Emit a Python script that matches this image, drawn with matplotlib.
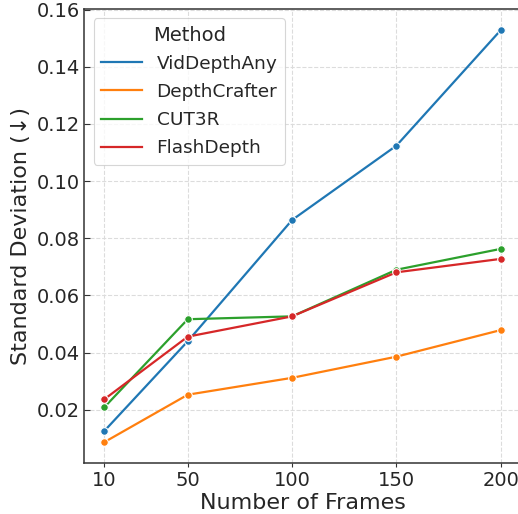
import matplotlib
matplotlib.use("Agg")
import matplotlib.pyplot as plt
from matplotlib.ticker import MultipleLocator, FormatStrFormatter
from matplotlib.lines import Line2D

frames = [10, 50, 100, 150, 200]
methods = ["VidDepthAny", "DepthCrafter", "CUT3R", "FlashDepth"]
vid_depth_any = [0.0126, 0.0440, 0.0864, 0.1124, 0.1528]
depth_crafter = [0.0087, 0.0253, 0.0312, 0.0386, 0.0479]
cut3r = [0.0209, 0.0517, 0.0527, 0.0690, 0.0763]
flash_depth = [0.0237, 0.0456, 0.0527, 0.0681, 0.0728]
colors = ["#1f77b4", "#ff7f0e", "#2ca02c", "#d62728"]

plt.rcParams["font.family"] = ["DejaVu Sans"]
plt.rcParams["text.color"] = "#262626"
plt.rcParams["axes.labelcolor"] = "#262626"
plt.rcParams["xtick.color"] = "#262626"
plt.rcParams["ytick.color"] = "#262626"

fig = plt.figure(figsize=(5.18, 5.14), dpi=100)
ax = fig.add_axes([0.1631, 0.0986, 0.8418, 0.8839])

series = [vid_depth_any, depth_crafter, cut3r, flash_depth]
for name, vals, c in zip(methods, series, colors):
    ax.plot(frames, vals, color=c, lw=1.6, marker="o", markersize=5.5,
            markeredgecolor="white", markeredgewidth=0.8, label=name)

ax.set_xticks(frames)
ax.yaxis.set_major_locator(MultipleLocator(0.02))
ax.yaxis.set_major_formatter(FormatStrFormatter("%.2f"))
ax.set_ylim(0.0013, 0.1602)
ax.set_xlim(0.5, 209.5)

ax.grid(True, ls="--", color="#dcdcdc", lw=0.8)
ax.set_axisbelow(True)
for s in ax.spines.values():
    s.set_color("#333333")
    s.set_linewidth(1.1)
ax.spines["right"].set_visible(False)

ax.tick_params(axis="x", direction="out", length=3, labelsize=14, color="#333333", pad=2.5)
ax.tick_params(axis="y", direction="in", length=4, labelsize=14, color="#333333")

ax.set_xlabel("Number of Frames", fontsize=16, labelpad=2)
ax.set_ylabel("Standard Deviation (↓)", fontsize=16)

# legend shows plain lines, no markers
handles = [Line2D([], [], color=c, lw=1.6) for c in colors]
leg = ax.legend(handles, methods, title="Method", loc="upper left", fontsize=13.3,
                title_fontsize=14, frameon=True, edgecolor="#cccccc", fancybox=True,
                handlelength=2.2, labelspacing=0.55)
leg.get_frame().set_linewidth(0.8)

fig.savefig("out.png", dpi=100)
